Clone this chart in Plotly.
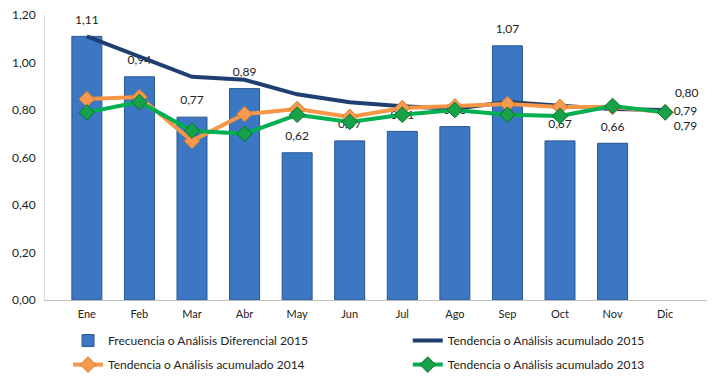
import plotly.graph_objects as go

months = ["Ene", "Feb", "Mar", "Abr", "May", "Jun", "Jul", "Ago", "Sep", "Oct", "Nov", "Dic"]
frecuencia_2015 = [1.11, 0.94, 0.77, 0.89, 0.62, 0.67, 0.71, 0.73, 1.07, 0.67, 0.66, None]
tendencia_2015 = [1.11, 1.025, 0.94, 0.927, 0.866, 0.833, 0.816, 0.805, 0.834, 0.818, 0.804, 0.80]
tendencia_2014 = [0.846, 0.855, 0.67, 0.783, 0.804, 0.771, 0.808, 0.815, 0.825, 0.813, 0.813, 0.79]
tendencia_2013 = [0.79, 0.834, 0.713, 0.70, 0.78, 0.75, 0.78, 0.80, 0.78, 0.775, 0.817, 0.79]

names = ["Frecuencia o Análisis Diferencial 2015",
         "Tendencia o Análisis acumulado 2015",
         "Tendencia o Análisis acumulado 2014",
         "Tendencia o Análisis acumulado 2013"]

FONT = "Lato"
TXT = "#222222"
CLEAR = "rgba(0,0,0,0)"

def last_label(vals):
    return [None] * (len(vals) - 1) + [f"{vals[-1]:.2f}".replace(".", ",")]

fig = go.Figure()
fig.add_trace(go.Bar(
    x=months, y=frecuencia_2015, name=names[0],
    legend="legend", legendgroup="g1",
    marker=dict(color="#3C77C4", line=dict(color="#27558F", width=1)),
    width=0.57,
    hoverinfo="x+y",
))
# value labels above the bars (same data, text only)
fig.add_trace(go.Scatter(
    x=months, y=frecuencia_2015, mode="markers+text", showlegend=False,
    marker=dict(size=14, color=CLEAR, line=dict(width=0)),
    texttemplate="%{y:.2f}", textposition="top center",
    textfont=dict(size=12, color=TXT, family=FONT),
    cliponaxis=False, hoverinfo="skip",
))
fig.add_trace(go.Scatter(
    x=months, y=tendencia_2015, name=names[1], mode="lines+markers+text",
    legend="legend2", legendgroup="g2",
    line=dict(color="#1F3F73", width=4),
    marker=dict(size=14, color=CLEAR, line=dict(width=0)),
    text=last_label(tendencia_2015), textposition="top right",
    textfont=dict(size=12, color=TXT, family=FONT),
    cliponaxis=False,
))
fig.add_trace(go.Scatter(
    x=months, y=tendencia_2014, name=names[2], mode="lines+markers+text",
    legend="legend", legendgroup="g3",
    line=dict(color="#F79646", width=4),
    marker=dict(symbol="diamond", size=12, color="#F59A4E", line=dict(color="#D9792A", width=1)),
    text=last_label(tendencia_2014), textposition="middle right",
    textfont=dict(size=12, color=TXT, family=FONT),
    cliponaxis=False,
))
fig.add_trace(go.Scatter(
    x=months, y=tendencia_2013, name=names[3], mode="lines+markers+text",
    legend="legend2", legendgroup="g4",
    line=dict(color="#00B050", width=4),
    marker=dict(symbol="diamond", size=12, color="#17A24A", line=dict(color="#0B6E30", width=1)),
    text=last_label(tendencia_2013), textposition="bottom right",
    textfont=dict(size=12, color=TXT, family=FONT),
    cliponaxis=False,
))

legend_common = dict(orientation="v", yanchor="top", y=-0.0915, xanchor="left",
                     font=dict(size=12, family=FONT, color=TXT),
                     traceorder="grouped", tracegroupgap=5, itemwidth=30,
                     bgcolor="rgba(0,0,0,0)")

# the page body adds an 8px margin, so the figure is 8px smaller and margins shifted
fig.update_layout(
    width=713, height=377,
    margin=dict(l=37, r=14, t=7, b=85, autoexpand=False),
    paper_bgcolor="white", plot_bgcolor="white",
    separators=",.",
    font=dict(family=FONT, size=11, color=TXT),
    showlegend=True,
    legend=dict(x=0.0348, **legend_common),
    legend2=dict(x=0.548, **legend_common),
    bargap=0.43,
)
fig.update_xaxes(showgrid=False, showline=True, linecolor="#BFBFBF", linewidth=1,
                 ticks="", tickfont=dict(size=11, family=FONT, color=TXT),
                 ticklabelstandoff=4, ticklabeloverflow="allow")
fig.update_yaxes(range=[0, 1.2], dtick=0.2, tickformat=".2f", showgrid=False,
                 showline=True, linecolor="#D9D9D9", linewidth=1, zeroline=False,
                 ticks="", tickfont=dict(size=12, family=FONT, color=TXT), ticklabelstandoff=6,
                 ticklabeloverflow="allow")

fig.write_html("out.html")
